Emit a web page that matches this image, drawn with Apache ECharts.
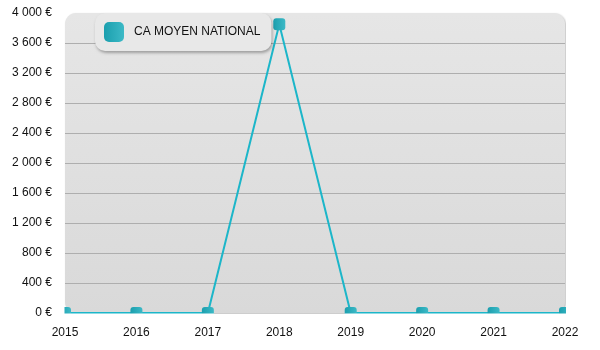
<!DOCTYPE html>
<html><head><meta charset="utf-8">
<script src="https://cdn.jsdelivr.net/npm/echarts@6/dist/echarts.min.js"></script>
<style>html,body{margin:0;padding:0;background:#fff}#c{width:600px;height:350px}</style>
</head><body><div id="c"></div>
<script>
var years = ['2015','2016','2017','2018','2019','2020','2021','2022'];
var caMoyen = [0, 0, 0, 3850, 0, 0, 0, 0];
var seriesName = 'CA MOYEN NATIONAL';

var G = {left: 65, right: 35, top: 13, bottom: 37};
var chart = echarts.init(document.getElementById('c'));
var teal = new echarts.graphic.LinearGradient(0, 0, 1, 0, [{offset: 0, color: '#1b9fae'}, {offset: 1, color: '#3cb9c6'}]);
chart.setOption({
  animation: false,
  textStyle: {fontFamily: 'Liberation Sans, Arial, sans-serif'},
  grid: {left: G.left, right: G.right, top: G.top, bottom: G.bottom},
  graphic: [
    {type: 'rect', z: -10, shape: {x: G.left, y: G.top, width: 600 - G.left - G.right, height: 350 - G.top - G.bottom, r: 11},
     style: {fill: new echarts.graphic.LinearGradient(0, 0, 0, 1, [{offset: 0, color: '#e6e6e6'}, {offset: 1, color: '#d9d9d9'}]),
             shadowColor: 'rgba(0,0,0,0.25)', shadowBlur: 2, shadowOffsetX: 1, shadowOffsetY: 1}},
    {type: 'rect', z: 100, shape: {x: 58.5, y: 313.5, width: 541, height: 7}, style: {fill: '#fff'}},
    {type: 'rect', z: 100, shape: {x: 566, y: 0, width: 34, height: 321}, style: {fill: '#fff'}},
    {type: 'rect', z: 100, shape: {x: 58.5, y: 305, width: 6, height: 15}, style: {fill: '#fff'}}
  ],
  legend: {
    left: 95, top: 13, padding: [9, 11, 9, 9], itemWidth: 20, itemHeight: 20, itemGap: 10,
    icon: 'roundRect', backgroundColor: '#e8e8e8', borderRadius: 10,
    shadowColor: 'rgba(0,0,0,0.3)', shadowBlur: 3, shadowOffsetX: 1, shadowOffsetY: 2,
    textStyle: {fontSize: 12, color: '#111', padding: [0, 0, 0, 5], fontFamily: 'Liberation Sans, Arial, sans-serif'},
    data: [{name: seriesName, itemStyle: {color: teal}}]
  },
  xAxis: {
    type: 'category', data: years, boundaryGap: false,
    axisLine: {show: true, lineStyle: {color: '#9a9a9a'}}, axisTick: {show: false},
    axisLabel: {color: '#111', fontSize: 12, margin: 14}
  },
  yAxis: {
    type: 'value', min: 0, max: 4000, interval: 400,
    axisLine: {show: false}, axisTick: {show: false},
    splitLine: {showMaxLine: false, lineStyle: {color: '#aeaeae', width: 1}},
    axisLabel: {color: '#111', fontSize: 12, margin: 13,
      formatter: function (v) { return String(v).replace(/\B(?=(\d{3})+(?!\d))/g, ' ') + ' €'; }}
  },
  series: [{
    name: seriesName, type: 'line', data: caMoyen, clip: false,
    symbol: 'roundRect', symbolSize: 12, showAllSymbol: true,
    lineStyle: {color: '#1cb6c9', width: 2},
    itemStyle: {color: teal, borderWidth: 0}
  }]
});
</script></body></html>
